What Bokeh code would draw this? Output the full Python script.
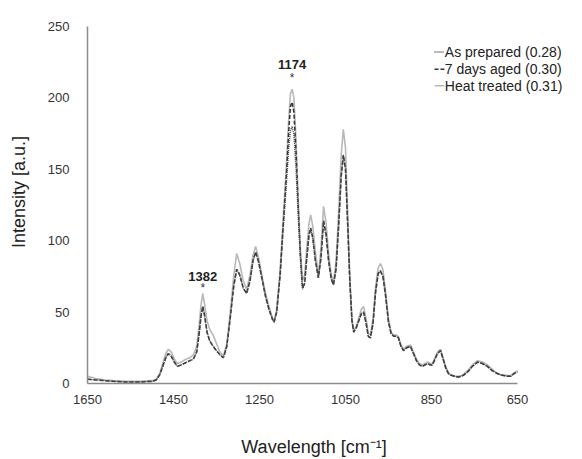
from bokeh.plotting import figure
from bokeh.models import Range1d, FixedTicker, Label, Arrow
from bokeh.embed import file_html
from bokeh.resources import INLINE

wavenumber = [1650, 1630, 1610, 1590, 1560, 1530, 1500, 1490, 1482, 1475, 1468, 1462, 1455, 1448, 1441,
              1432, 1422, 1412, 1404, 1396, 1390, 1386, 1382, 1378, 1372, 1366, 1358, 1350, 1342, 1334,
              1326, 1318, 1310, 1303, 1296, 1288, 1280, 1272, 1265, 1259, 1252, 1244, 1236, 1228, 1220,
              1216, 1210, 1202, 1195, 1188, 1182, 1178, 1174, 1170, 1165, 1160, 1155, 1150, 1145, 1140,
              1135, 1131, 1126, 1120, 1113, 1107, 1101, 1095, 1089, 1083, 1078, 1072, 1066, 1060, 1055,
              1050, 1045, 1040, 1035, 1031, 1025, 1019, 1013, 1008, 1002, 997, 992, 986, 980, 974,
              969, 963, 957, 950, 944, 938, 932, 927, 921, 915, 908, 899, 892, 885, 878,
              871, 865, 859, 853, 848, 842, 836, 829, 823, 817, 811, 806, 796, 787, 777,
              766, 755, 743, 732, 720, 709, 697, 688, 680, 672, 666, 660, 655, 650]

heat_treated = [5, 3.5, 2.5, 2, 1.5, 1.5, 2, 3, 7, 14, 21, 24, 22, 17, 14,
                15, 17, 18, 20, 26, 42, 55, 63, 56, 44, 38, 34, 28, 22, 19,
                28, 50, 75, 91, 84, 72, 66, 76, 90, 96, 88, 75, 63, 54, 46,
                44, 52, 80, 115, 150, 185, 203, 206, 200, 170, 130, 95, 72, 76, 95,
                112, 118, 110, 92, 76, 95, 124, 112, 90, 76, 71, 85, 120, 160, 178,
                165, 120, 75, 45, 37, 40, 46, 52, 54, 45, 35, 34, 45, 68, 81,
                84, 80, 65, 45, 36, 34, 34, 33, 27, 24, 26, 27, 22, 17, 14,
                13, 14, 15, 14, 14, 18, 22, 24, 18, 12, 8, 6, 5, 5, 6,
                9, 13, 16, 15, 13, 10, 7, 6, 6, 5.5, 5.5, 7, 8, 9]

days7_aged = [3, 2.5, 2, 1.5, 1, 1, 1.5, 2.5, 6, 12, 18, 21, 19, 15, 12,
              13, 14.5, 16, 17, 22, 36, 47, 54, 48, 36, 30, 26, 23, 20, 18,
              26, 46, 68, 80, 76, 67, 63, 72, 86, 92, 85, 73, 61, 52, 45,
              43, 50, 76, 110, 143, 177, 194, 197, 190, 162, 124, 90, 67, 70, 88,
              104, 109, 102, 86, 74, 88, 114, 104, 85, 73, 69, 80, 110, 145, 160,
              150, 112, 72, 44, 36, 39, 44, 49, 50, 42, 33, 32, 42, 64, 77,
              79, 75, 62, 43, 35, 33, 33, 32, 26, 23, 25, 26, 21, 16, 13,
              12, 13, 14, 13, 13, 17, 21, 23, 17, 11, 7, 6, 5, 4.5, 5.5,
              8, 12, 15, 14, 12, 9, 7, 6, 5.5, 5, 5, 6.5, 7.5, 8]

as_prepared = [3, 2.5, 2, 1.5, 1, 1, 1.5, 2.5, 6, 12, 18, 21, 19, 15, 12,
               13, 14.5, 16, 17, 22, 36, 47, 54, 48, 36, 30, 26, 23, 20, 18,
               26, 46, 68, 80, 76, 67, 63, 72, 86, 92, 85, 73, 61, 52, 45,
               43, 50, 76, 108, 138, 165, 177, 180, 174, 150, 118, 88, 66, 70, 88,
               103, 108, 101, 86, 74, 88, 113, 103, 85, 73, 69, 80, 110, 145, 160,
               150, 112, 72, 44, 36, 39, 44, 49, 50, 42, 33, 32, 42, 64, 77,
               79, 75, 62, 43, 35, 33, 33, 32, 26, 23, 25, 26, 21, 16, 13,
               12, 13, 14, 13, 13, 17, 21, 23, 17, 11, 7, 6, 5, 4.5, 5.5,
               8, 12, 15, 14, 12, 9, 7, 6, 5.5, 5, 5, 6.5, 7.5, 8]

series_names = ["As prepared (0.28)", "7 days aged (0.30)", "Heat treated (0.31)"]
x_ticks = [1650, 1450, 1250, 1050, 850, 650]
y_ticks = [0, 50, 100, 150, 200, 250]
peak_labels = ["1382", "1174"]
peak_positions = [1382, 1174]
peak_label_heights = [75, 223]
peak_star_heights = [67, 214]

FONT = "Liberation Sans"

# frame: left 87 px, bottom 385 px; 0.43 px per cm-1, 1.434 px per unit.
# The frame is extended right and up (axis lines limited with bounds) so the
# legend text can reach the right edge of the picture.
FRAME_RIGHT_PAD = 2
x_end = 650 - (582 - FRAME_RIGHT_PAD - 517) / 0.43
y_end = 250 + 26 / 1.434

p = figure(width=582, height=459, output_backend="svg", toolbar_location=None,
           x_range=Range1d(1650, x_end), y_range=Range1d(0, y_end),
           min_border_left=87, min_border_right=FRAME_RIGHT_PAD, min_border_top=0, min_border_bottom=74)
p.outline_line_color = None
p.xgrid.grid_line_color = None
p.ygrid.grid_line_color = None

for ax, ticks in ((p.xaxis, x_ticks), (p.yaxis, y_ticks)):
    ax.ticker = FixedTicker(ticks=ticks)
    ax.bounds = (min(ticks), max(ticks))
    ax.major_tick_line_color = None
    ax.minor_tick_line_color = None
    ax.axis_line_color = "#8c8c8c"
    ax.axis_line_width = 1.5
    ax.major_label_text_font = FONT
    ax.major_label_text_font_size = "13px"
    ax.major_label_text_color = "#333333"
    ax.axis_label_text_font = FONT
    ax.axis_label_text_font_style = "normal"
    ax.axis_label_text_color = "#222222"
    ax.axis_label_text_font_size = "18px"

p.xaxis.major_label_standoff = 5
p.yaxis.major_label_standoff = 12
# trailing no-break spaces shift the centred title left, over the axis line
p.xaxis.axis_label = "Wavelength [cm\u207b\u00b9]" + "\u00a0" * 8
p.yaxis.axis_label = "Intensity [a.u.]"
p.xaxis.axis_label_standoff = 30
p.yaxis.axis_label_standoff = 16

styles = [dict(line_color="#4a4a4a", line_width=1.5, line_dash="1 1"),
          dict(line_color="#333333", line_width=1.5, line_dash="4 2"),
          dict(line_color="#b8b8b8", line_width=1.6)]
series = [as_prepared, days7_aged, heat_treated]

for vals, st in reversed(list(zip(series, styles))):
    p.line(wavenumber, vals, **st)

legend_y = [232, 220, 208.5]
for name, st, ly in zip(series_names, styles, legend_y):
    p.add_layout(Arrow(end=None, x_start=843, x_end=820, y_start=ly, y_end=ly, **st))
    p.add_layout(Label(x=819, y=ly, text=name, text_align="left", text_baseline="middle",
                       text_font=FONT, text_font_size="14px", text_color="#222222"))

for txt, xpos, ylab, ystar in zip(peak_labels, peak_positions, peak_label_heights, peak_star_heights):
    p.add_layout(Label(x=xpos, y=ylab, text=txt, text_align="center", text_baseline="middle",
                       text_font=FONT, text_font_style="bold", text_font_size="13px",
                       text_color="#222222"))
    p.add_layout(Label(x=xpos, y=ystar, text="*", text_align="center", text_baseline="middle",
                       text_font=FONT, text_font_size="12px", text_color="#333333"))

open("out.html", "w").write(file_html(p, INLINE))
